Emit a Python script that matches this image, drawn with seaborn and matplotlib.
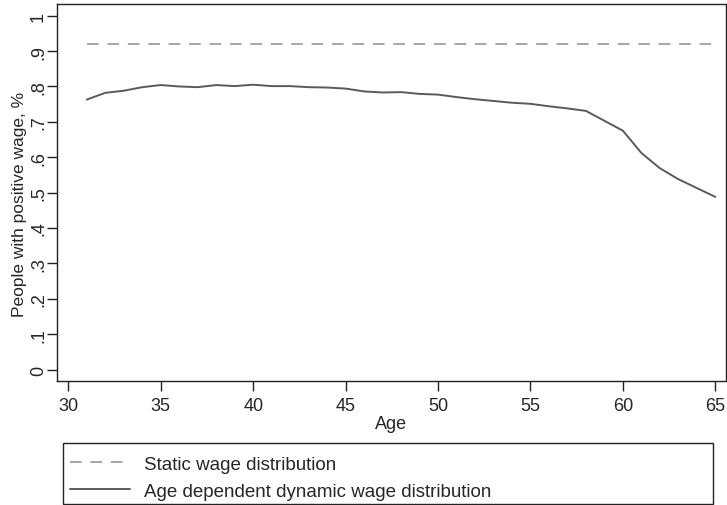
import matplotlib
matplotlib.use("Agg")
import matplotlib.pyplot as plt
import numpy as np
import pandas as pd
import seaborn as sns
from matplotlib.lines import Line2D
from matplotlib.patches import Rectangle

ages = list(range(31, 66))
dynamic_share = [0.763, 0.782, 0.788, 0.798, 0.804, 0.800, 0.798, 0.804, 0.801, 0.805,
                 0.801, 0.801, 0.798, 0.797, 0.794, 0.786, 0.783, 0.784, 0.779, 0.777,
                 0.770, 0.764, 0.759, 0.754, 0.751, 0.744, 0.738, 0.731, 0.703, 0.675,
                 0.612, 0.569, 0.538, 0.513, 0.488]
static_share = 0.92
series_names = ["Static wage distribution", "Age dependent dynamic wage distribution"]
x_ticks = [30, 35, 40, 45, 50, 55, 60, 65]
y_ticks = [0, 0.1, 0.2, 0.3, 0.4, 0.5, 0.6, 0.7, 0.8, 0.9, 1.0]
y_tick_labels = ["0", ".1", ".2", ".3", ".4", ".5", ".6", ".7", ".8", ".9", "1"]

df = pd.DataFrame({
    "Age": ages * 2,
    "share": [static_share] * len(ages) + dynamic_share,
    "series": [series_names[0]] * len(ages) + [series_names[1]] * len(ages),
})

sns.set_theme(style="white")
plt.rcParams["font.family"] = ["Liberation Sans", "DejaVu Sans"]

W, H, DPI = 727, 506, 100
fig = plt.figure(figsize=(W / DPI, H / DPI), dpi=DPI)
ax = fig.add_axes([56.7 / W, 1 - 382.3 / H, (725.5 - 56.7) / W, (382.3 - 5) / H])

palette = {series_names[0]: "#a6a6a6", series_names[1]: "#5a5a5a"}
dashes = {series_names[0]: (6, 4.5), series_names[1]: ""}
sns.lineplot(data=df, x="Age", y="share", hue="series", style="series",
             palette=palette, dashes=dashes, linewidth=1.4, ax=ax, legend=False)

ax.set_xlim(29.37, 65.55)
ax.set_ylim(-0.033, 1.033)
ax.set_xticks(x_ticks)
ax.set_xticklabels([str(t) for t in x_ticks], fontsize=13)
ax.set_yticks(y_ticks)
ax.set_yticklabels(y_tick_labels, fontsize=13, rotation=90, va="center")
ax.tick_params(axis="both", direction="out", length=7, width=1, color="#222222",
               bottom=True, left=True)
ax.tick_params(axis="y", pad=0)
ax.tick_params(axis="x", pad=4)
ax.set_xlabel("Age", fontsize=13, labelpad=1)
ax.set_ylabel("People with positive wage, %", fontsize=12.5)
ax.yaxis.set_label_coords(-(56.7 - 27) / (725.5 - 56.7), (382.3 - 204) / (382.3 - 5))
for sp in ax.spines.values():
    sp.set_color("#222222")
    sp.set_linewidth(1.0)

# legend box below the plot
fig.patches.append(Rectangle((63 / W, 1 - 505 / H), (713 - 63) / W, (505 - 444) / H,
                             transform=fig.transFigure, fill=False,
                             edgecolor="#222222", linewidth=1.0))
handles = [
    Line2D([], [], color=palette[series_names[0]], lw=1.4, dashes=(6, 4.5)),
    Line2D([], [], color=palette[series_names[1]], lw=1.4),
]
leg = fig.legend(handles, series_names, loc="upper left",
                 bbox_to_anchor=(58 / W, 1 - 444 / H), borderaxespad=0, fontsize=13.5,
                 frameon=False, handlelength=3.2, handletextpad=0.75,
                 labelspacing=0.55, borderpad=0.66)

fig.savefig("out.png", dpi=DPI)
